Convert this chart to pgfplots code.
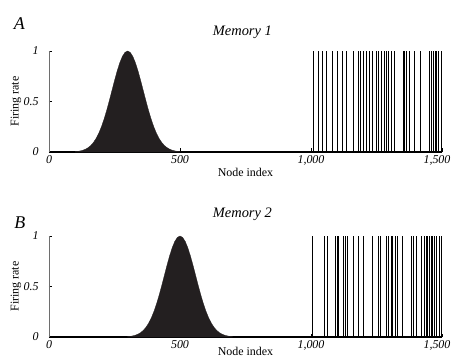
\documentclass[border=0pt]{standalone}
\usepackage{fontspec}
\setmainfont{Liberation Serif}
\usepackage{pgfplots}
\pgfplotsset{compat=1.18}
\definecolor{ink}{RGB}{35,31,32}
\definecolor{axgray}{RGB}{110,110,110}
\pgfplotsset{
  panel/.style={
    scale only axis, width=393bp, height=101bp,
    xmin=0, xmax=1500, ymin=0, ymax=1,
    axis x line*=bottom, axis y line*=left,
    x axis line style={-, line width=1.4pt, black},
    y axis line style={-, line width=0.8pt, axgray},
    tick align=inside, major tick length=3.5bp,
    xtick={0,500,1000,1500}, xticklabels={0,500,{1,000},{\hspace{-10bp}1,500}},
    ytick={0,0.5,1}, yticklabels={0,0.5,1},
    every tick/.style={black, line width=0.5pt},
    xticklabel style={font=\fontsize{12}{13}\selectfont\itshape, yshift=-0.5bp},
    yticklabel style={font=\fontsize{12}{13}\selectfont\itshape, xshift=-7bp},
    xlabel={Node index}, ylabel={Firing rate},
    xlabel style={font=\fontsize{12}{13}\selectfont, at={(axis description cs:0.5,-0.2)}, anchor=center},
    ylabel style={font=\fontsize{12}{13}\selectfont, at={(axis description cs:-0.084,0.5)}, anchor=center},
    clip=false,
  }
}
\begin{document}
\begin{tikzpicture}
\path[use as bounding box] (-49bp,-206bp) rectangle (403bp,152bp);
\begin{axis}[panel, at={(0,0)}]
\addplot[fill=ink, draw=ink, line width=0.3pt] coordinates {
(100,0)(100,0.0039)(110,0.0066)(120,0.0111)(130,0.0181)(140,0.0286)(150,0.0439)(160,0.0657)(170,0.0956)(180,0.1353)(190,0.1862)(200,0.2494)(210,0.3247)(220,0.4111)(230,0.5063)(240,0.6065)(250,0.7066)(260,0.8007)(270,0.8825)(280,0.9460)(290,0.9862)(300,1)(310,0.9862)(320,0.9460)(330,0.8825)(340,0.8007)(350,0.7066)(360,0.6065)(370,0.5063)(380,0.4111)(390,0.3247)(400,0.2494)(410,0.1862)(420,0.1353)(430,0.0956)(440,0.0657)(450,0.0439)(460,0.0286)(470,0.0181)(480,0.0111)(490,0.0066)(500,0.0039)(500,0)
} -- cycle;
\addplot[ycomb, black, line width=0.8pt, mark=none] coordinates {
(1011,1)(1028,1)(1045,1)(1059,1)(1081,1)(1099,1)(1120,1)(1135,1)(1163,1)(1181,1)(1190,1)(1200,1)(1212,1)(1224,1)(1235,1)(1248,1)(1258,1)(1268,1)(1280,1)(1288,1)(1297,1)(1308,1)(1318,1)(1352,1)(1358,1)(1365,1)(1374,1)(1394,1)(1418,1)(1450,1)(1458,1)(1466,1)(1473,1)(1480,1)(1487,1)(1496,1)
};
\node[font=\fontsize{18}{19}\selectfont\itshape] at (rel axis cs:-0.0756,1.269) {A};
\node[font=\fontsize{14.5}{16}\selectfont\itshape, anchor=base] at (rel axis cs:0.492,1.158) {Memory 1};
\end{axis}
\begin{axis}[panel, at={(0,-185bp)}, xlabel style={at={(axis description cs:0.5,-0.145)}}]
\addplot[fill=ink, draw=ink, line width=0.3pt] coordinates {
(300,0)(300,0.0039)(310,0.0066)(320,0.0111)(330,0.0181)(340,0.0286)(350,0.0439)(360,0.0657)(370,0.0956)(380,0.1353)(390,0.1862)(400,0.2494)(410,0.3247)(420,0.4111)(430,0.5063)(440,0.6065)(450,0.7066)(460,0.8007)(470,0.8825)(480,0.9460)(490,0.9862)(500,1)(510,0.9862)(520,0.9460)(530,0.8825)(540,0.8007)(550,0.7066)(560,0.6065)(570,0.5063)(580,0.4111)(590,0.3247)(600,0.2494)(610,0.1862)(620,0.1353)(630,0.0956)(640,0.0657)(650,0.0439)(660,0.0286)(670,0.0181)(680,0.0111)(690,0.0066)(700,0.0039)(700,0)
} -- cycle;
\addplot[ycomb, black, line width=0.8pt, mark=none] coordinates {
(1007,1)(1053,1)(1061,1)(1093,1)(1099,1)(1104,1)(1123,1)(1130,1)(1140,1)(1162,1)(1182,1)(1200,1)(1235,1)(1257,1)(1263,1)(1286,1)(1295,1)(1305,1)(1312,1)(1324,1)(1331,1)(1350,1)(1382,1)(1391,1)(1401,1)(1420,1)(1433,1)(1439,1)(1446,1)(1452,1)(1458,1)(1465,1)(1471,1)(1480,1)(1490,1)(1496,1)
};
\node[font=\fontsize{18}{19}\selectfont\itshape] at (rel axis cs:-0.074,1.129) {B};
\node[font=\fontsize{14.5}{16}\selectfont\itshape, anchor=base] at (rel axis cs:0.492,1.185) {Memory 2};
\end{axis}
\end{tikzpicture}
\end{document}
